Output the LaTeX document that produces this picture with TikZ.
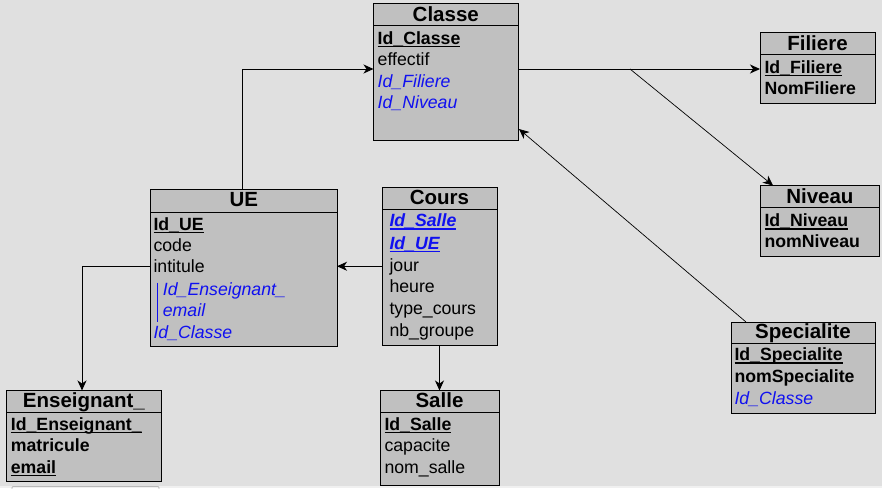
\documentclass[tikz,border=0pt]{standalone}
\usepackage{fontspec}
\setmainfont{Liberation Sans}
\usetikzlibrary{arrows.meta,calc}
\definecolor{bg}{RGB}{224,224,224}
\definecolor{boxfill}{RGB}{192,192,192}
\definecolor{fk}{RGB}{16,16,240}
\newcommand\myul[1]{\setbox0\hbox{#1}\rlap{\rule[-3pt]{\wd0}{1.3pt}}\box0}
\tikzset{
  tbl/.style={draw=black, line width=1pt, fill=boxfill, inner sep=0pt, outer sep=0pt},
  hdr/.style={draw=black, line width=1pt},
  ttl/.style={anchor=base, inner sep=0pt, font=\fontsize{20.5}{24}\selectfont\bfseries},
  row/.style={anchor=base west, inner sep=0pt, font=\fontsize{17.7}{21}\selectfont},
  fkrow/.style={row, text=fk, font=\fontsize{17.7}{21}\selectfont\itshape},
  conn/.style={line width=1pt, -{Stealth[length=10pt,width=9pt,inset=3pt]}},
  thinconn/.style={line width=0.7pt, -{Stealth[length=10pt,width=9pt,inset=3pt]}}
}
% name, x1, y1, x2, y2, header y, title, title baseline
\newcommand\mkbox[8]{%
  \node[tbl, minimum width={#4-#2}, minimum height={#5-#3}] (#1) at ({(#2+#4)/2},{(#3+#5)/2}) {};
  \draw[hdr] (#2,#6) -- (#4,#6);
  \node[ttl] (#1t) at ({(#2+#4)/2},#8) {#7};
}
\begin{document}
\begin{tikzpicture}[x=1pt,y=-1pt]
\fill[bg] (0,0) rectangle (882,488);
\useasboundingbox (0,0) rectangle (882,488);
\fill[gray!12] (0,486) rectangle (882,488);
\draw[gray!55, line width=0.8pt, rounded corners=1pt] (12,490) -- (12,486.5) -- (159,486.5) -- (159,490);

% Classe
\mkbox{classe}{373.5}{3.5}{518}{140}{25}{Classe}{21}
\node[row] (classe1) at (377.5,44) {\myul{\textbf{Id\_Classe}}};
\node[row] (classe2) at (377.5,65.5) {effectif};
\node[fkrow] (classe3) at (377.5,87.2) {Id\_Filiere};
\node[fkrow] (classe4) at (377.5,108.9) {Id\_Niveau};

% Filiere
\mkbox{filiere}{760}{32.5}{875}{103}{54}{Filiere}{50}
\node[row] (filiere1) at (764.3,73.3) {\myul{\textbf{Id\_Filiere}}};
\node[row] (filiere2) at (764.3,94.3) {\textbf{NomFiliere}};

% Niveau
\mkbox{niveau}{760.7}{185.5}{879}{256}{207}{Niveau}{203.3}
\node[row] (niveau1) at (764.3,226.7) {\myul{\textbf{Id\_Niveau}}};
\node[row] (niveau2) at (764.3,247.7) {\textbf{nomNiveau}};

% Specialite
\mkbox{specialite}{731}{322}{875}{413}{343}{Specialite}{338.3}
\node[row] (spec1) at (734.3,360.7) {\myul{\textbf{Id\_Specialite}}};
\node[row] (spec2) at (734.3,382.3) {\textbf{nomSpecialite}};
\node[fkrow] (spec3) at (734.3,404.3) {Id\_Classe};

% UE
\mkbox{ue}{150.7}{189.5}{337}{346}{212}{UE}{206.7}
\node[row] (ue1) at (153.3,230) {\myul{\textbf{Id\_UE}}};
\node[row] (ue2) at (153.3,251.7) {code};
\node[row] (ue3) at (153.3,272.3) {intitule};
\node[fkrow] (ue4) at (162.7,295) {Id\_Enseignant\_};
\node[fkrow] (ue5) at (162.7,316.7) {email};
\node[fkrow] (ue6) at (153.3,338.3) {Id\_Classe};
\draw[fk, line width=1pt] (157.3,282.7) -- (157.3,321.7);

% Cours
\mkbox{cours}{382}{187.5}{497}{345}{209}{Cours}{204}
\node[row] (cours1) at (389.3,226.7) {\color{fk}\myul{\textbf{\itshape Id\_Salle}}};
\node[row] (cours2) at (389.3,249) {\color{fk}\myul{\textbf{\itshape Id\_UE}}};
\node[row] (cours3) at (389.3,271) {jour};
\node[row] (cours4) at (389.3,292.3) {heure};
\node[row] (cours5) at (389.3,314) {type\_cours};
\node[row] (cours6) at (389.3,336) {nb\_groupe};

% Enseignant_
\mkbox{ens}{6.7}{390.5}{161}{481}{412}{Enseignant\_}{407.3}
\node[row] (ens1) at (10.7,430) {\myul{\textbf{Id\_Enseignant\_}}};
\node[row] (ens2) at (10.7,451.7) {\textbf{matricule}};
\node[row] (ens3) at (10.7,473.3) {\myul{\textbf{email}}};

% Salle
\mkbox{salle}{380}{390.5}{499}{485}{412}{Salle}{407.3}
\node[row] (salle1) at (384.3,430) {\myul{\textbf{Id\_Salle}}};
\node[row] (salle2) at (384.3,451.7) {capacite};
\node[row] (salle3) at (384.3,473.3) {nom\_salle};

% connectors
\coordinate (split) at ($(classe.north east)+(112,65.5)$);
\draw[conn] (ue.north -| 242,0) |- ($(classe.north west)+(0,65.5)$);
\draw[conn] ($(classe.north east)+(0,65.5)$) -- ($(filiere.north west)+(0,36.5)$);
\draw[thinconn] (split) -- ($(niveau.north west)+(12.3,0)$);
\draw[thinconn] ($(specialite.north west)+(15,0)$) -- ($(classe.south east)+(1,-11)$);
\draw[conn] (cours.west) -- (cours.west -| ue.east);
\draw[conn] (ue.west |- cours.west) -| (ens.north -| 82,0);
\draw[conn] (cours.south) -- (salle.north);
\end{tikzpicture}
\end{document}
